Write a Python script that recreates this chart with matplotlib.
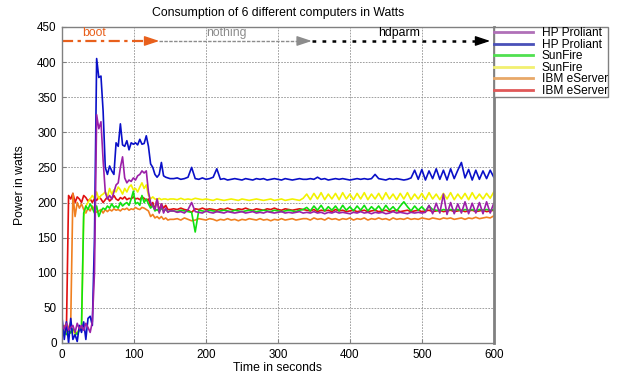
import numpy as np
import matplotlib
matplotlib.use("Agg")
import matplotlib.pyplot as plt
from matplotlib.lines import Line2D

plt.rcParams['font.family'] = ['Liberation Sans', 'DejaVu Sans']

# sampling grid: dense during boot, coarser while idle, zig-zag during hdparm
t = np.concatenate([np.arange(0, 151, 3), np.arange(155, 336, 5), np.arange(340, 601, 5)])

hp1 = [25, 20, 28, 18, 22, 25, 15, 28, 20, 25,
       18, 28, 22, 15, 30, 100, 325, 305, 315, 260,
       215, 205, 210, 205, 215, 225, 228, 250, 265, 235,
       228, 232, 230, 235, 232, 238, 240, 245, 242, 245,
       215, 200, 195, 190, 205, 185, 198, 185, 192, 186,
       188,
       188, 186, 187, 185, 190, 200, 187, 186, 185, 188,
       186, 185, 187, 186, 185, 187, 186, 185, 186, 187,
       185, 186, 187, 185, 186, 185, 187, 186, 185, 186,
       187, 185, 186, 185, 186, 187, 185,
       186, 185, 187, 185, 186, 184, 186, 185, 187, 185,
       186, 185, 184, 186, 185, 187, 185, 186, 184, 186,
       185, 186, 184, 185, 187, 185, 186, 185, 184, 186,
       185, 186, 185, 186, 196, 184, 199, 185, 212, 183,
       200, 184, 198, 185, 201, 184, 199, 185, 200, 184,
       201, 185, 199]

hp2 = [35, 5, 30, 0, 35, 5, 12, 2, 25, 15,
       30, 5, 35, 38, 25, 150, 405, 378, 380, 330,
       250, 240, 252, 245, 240, 285, 280, 312, 282, 280,
       288, 275, 285, 283, 285, 282, 290, 283, 284, 295,
       280, 255, 250, 240, 236, 240, 257, 238, 236, 235,
       234,
       234, 235, 233, 234, 236, 250, 234, 233, 235, 233,
       234, 236, 248, 233, 234, 232, 233, 234, 233, 232,
       234, 233, 232, 234, 233, 234, 232, 233, 234, 233,
       232, 234, 233, 232, 233, 234, 233,
       233, 234, 233, 236, 233, 234, 232, 233, 234, 233,
       234, 233, 232, 233, 234, 233, 234, 233, 234, 240,
       234, 233, 232, 234, 233, 234, 233, 232, 233, 235,
       246, 233, 247, 232, 245, 234, 248, 233, 246, 232,
       248, 234, 246, 257, 235, 247, 232, 246, 233, 245,
       234, 246, 236]

sun1 = [10, 15, 12, 18, 14, 20, 16, 12, 18, 25,
        185, 195, 190, 198, 192, 185, 195, 180, 188, 192,
        190, 195, 192, 198, 193, 195, 192, 200, 195, 198,
        200, 196, 205, 216, 198, 200, 196, 210, 200, 205,
        198, 192, 196, 188, 190, 187, 192, 188, 190, 187,
        188,
        188, 187, 189, 188, 187, 186, 158, 189, 188, 187,
        189, 188, 187, 188, 189, 188, 187, 189, 188, 187,
        188, 189, 188, 187, 188, 189, 188, 187, 189, 188,
        187, 188, 189, 188, 187, 189, 190,
        193, 188, 195, 189, 196, 188, 194, 189, 195, 188,
        196, 189, 194, 188, 195, 189, 196, 188, 194, 189,
        195, 188, 196, 189, 194, 188, 195, 201, 194, 188,
        195, 189, 194, 188, 195, 190, 189, 188, 190, 189,
        190, 189, 190, 188, 190, 189, 190, 188, 190, 189,
        190, 189, 190]

sun2 = [15, 18, 12, 20, 15, 18, 12, 16, 18, 20,
        180, 195, 200, 205, 210, 205, 215, 205, 210, 212,
        215, 208, 220, 212, 218, 215, 222, 218, 212, 220,
        215, 222, 225, 218, 220, 215, 222, 228, 220, 225,
        210, 205, 208, 205, 204, 206, 204, 205, 205, 204,
        205,
        205, 204, 206, 204, 205, 204, 206, 205, 204, 205,
        204, 203, 205, 204, 203, 204, 205, 204, 203, 205,
        204, 203, 204, 205, 204, 203, 204, 205, 203, 204,
        205, 203, 204, 205, 204, 203, 206,
        212, 204, 213, 205, 214, 204, 212, 205, 213, 204,
        214, 205, 212, 204, 213, 205, 214, 204, 212, 205,
        213, 204, 214, 205, 212, 204, 213, 205, 214, 204,
        212, 205, 213, 204, 214, 205, 212, 204, 213, 205,
        214, 204, 212, 205, 213, 204, 214, 205, 212, 205,
        213, 206, 215]

ibm1 = [20, 25, 15, 22, 30, 213, 180, 200, 192, 198,
        190, 185, 192, 188, 195, 190, 186, 188, 190, 185,
        190, 187, 190, 188, 191, 189, 190, 188, 191, 190,
        192, 189, 191, 190, 193, 191, 190, 193, 192, 190,
        188, 180, 183, 178, 180, 177, 180, 176, 178, 175,
        176,
        176, 177, 175, 178, 176, 174, 175, 177, 176, 175,
        177, 176, 174, 176, 175, 177, 175, 176, 174, 176,
        175, 177, 176, 175, 177, 175, 176, 174, 176, 175,
        177, 175, 176, 177, 175, 176, 177,
        177, 175, 178, 176, 177, 175, 178, 176, 177, 175,
        177, 176, 178, 175, 177, 176, 178, 175, 177, 176,
        178, 176, 177, 175, 178, 176, 177, 176, 178, 176,
        177, 176, 178, 177, 176, 178, 177, 176, 178, 177,
        178, 176, 177, 178, 176, 178, 177, 179, 177, 178,
        179, 178, 181]

ibm2 = [20, 22, 18, 210, 205, 213, 200, 208, 205, 200,
        210, 207, 202, 205, 200, 206, 203, 208, 205, 200,
        204, 208, 202, 205, 210, 205, 203, 207, 205, 208,
        204, 206, 205, 208, 205, 206, 204, 208, 206, 203,
        205, 195, 200, 190, 205, 188, 198, 192, 196, 190,
        190,
        191, 190, 192, 190, 189, 186, 191, 190, 192, 190,
        191, 190, 189, 191, 190, 192, 190, 189, 191, 190,
        192, 190, 189, 191, 190, 189, 191, 190, 192, 190,
        189, 191, 190, 189, 190, 191, 190,
        189, 188, 190, 187, 189, 188, 189, 187, 190, 188,
        189, 187, 188, 189, 187, 188, 189, 187, 188, 189,
        187, 188, 189, 187, 188, 189, 187, 188, 189, 187,
        188, 189, 187, 188, 189, 187, 188, 189, 187, 188,
        189, 187, 188, 189, 187, 188, 189, 187, 188, 189,
        187, 188, 189]

labels = ['HP Proliant', 'HP Proliant', 'SunFire', 'SunFire', 'IBM eServer', 'IBM eServer']
series = [hp1, hp2, sun1, sun2, ibm1, ibm2]
colors = ['#9b20a8', '#0a10c8', '#10e010', '#f2f200', '#f08020', '#e01010']
legend_colors = ['#b070b8', '#4a50b8', '#50e050', '#f2f070', '#e8a868', '#e05858']
draw_order = [5, 4, 3, 2, 1, 0]

phase_labels = ['boot', 'nothing', 'hdparm']
phase_start = [0, 135, 347]
phase_end = [135, 347, 595]
phase_text_x = [45, 228, 469]
phase_colors = ['#e8601c', '#8c8c8c', '#000000']
phase_styles = [(0, (5, 2, 1.5, 2)), (0, (2.5, 1)), (0, (1.5, 2.5))]
phase_widths = [1.6, 1.0, 1.8]
phase_level = 430

for s in series:
    assert len(s) == len(t), len(s)

fig = plt.figure(figsize=(6.18, 3.74), dpi=100)
ax = fig.add_axes([0.1005, 0.083, 0.6985, 0.845])

for i in draw_order:
    ax.plot(t, series[i], color=colors[i], lw=1.2)

for lab, x0, x1, tx, c, ls, w in zip(phase_labels, phase_start, phase_end, phase_text_x,
                                    phase_colors, phase_styles, phase_widths):
    ax.plot([x0, x1 - 8], [phase_level, phase_level], color=c, lw=w, linestyle=ls)
    ax.annotate('', xy=(x1, phase_level), xytext=(x1 - 10, phase_level),
                arrowprops=dict(arrowstyle='-|>,head_length=0.9,head_width=0.3',
                                color=c, lw=1, shrinkA=0, shrinkB=0, mutation_scale=10))
    ax.text(tx, 441, lab, color=c, ha='center', va='center', fontsize=8.8)

ax.set_xlim(0, 600)
ax.set_ylim(0, 450)
ax.set_xticks(range(0, 601, 100))
ax.set_yticks(range(0, 451, 50))
ax.tick_params(direction='in', length=3, color='#808080', labelsize=8.4, pad=4)
ax.grid(True, color='#909090', linestyle=(0, (2, 1.5)), lw=0.6)
ax.set_axisbelow(True)
for sp in ax.spines.values():
    sp.set_color('#808080')
    sp.set_linewidth(1)
ax.spines['right'].set_linewidth(2)

ax.set_xlabel('Time in seconds', fontsize=8.8, labelpad=1)
ax.set_ylabel('Power in watts', fontsize=8.8, labelpad=8)
ax.set_title('Consumption of 6 different computers in Watts', fontsize=8.8, pad=8)

handles = [Line2D([], [], color=c, lw=2) for c in legend_colors]
leg = ax.legend(handles, labels, loc='upper left', bbox_to_anchor=(1.0, 1.0),
                borderaxespad=0, fontsize=8.6, frameon=True, fancybox=False,
                edgecolor='#808080', framealpha=1, handlelength=3.3,
                handletextpad=0.7, labelspacing=-0.04, borderpad=0.02)
leg.get_frame().set_linewidth(1)

fig.savefig('out.png', dpi=100)
